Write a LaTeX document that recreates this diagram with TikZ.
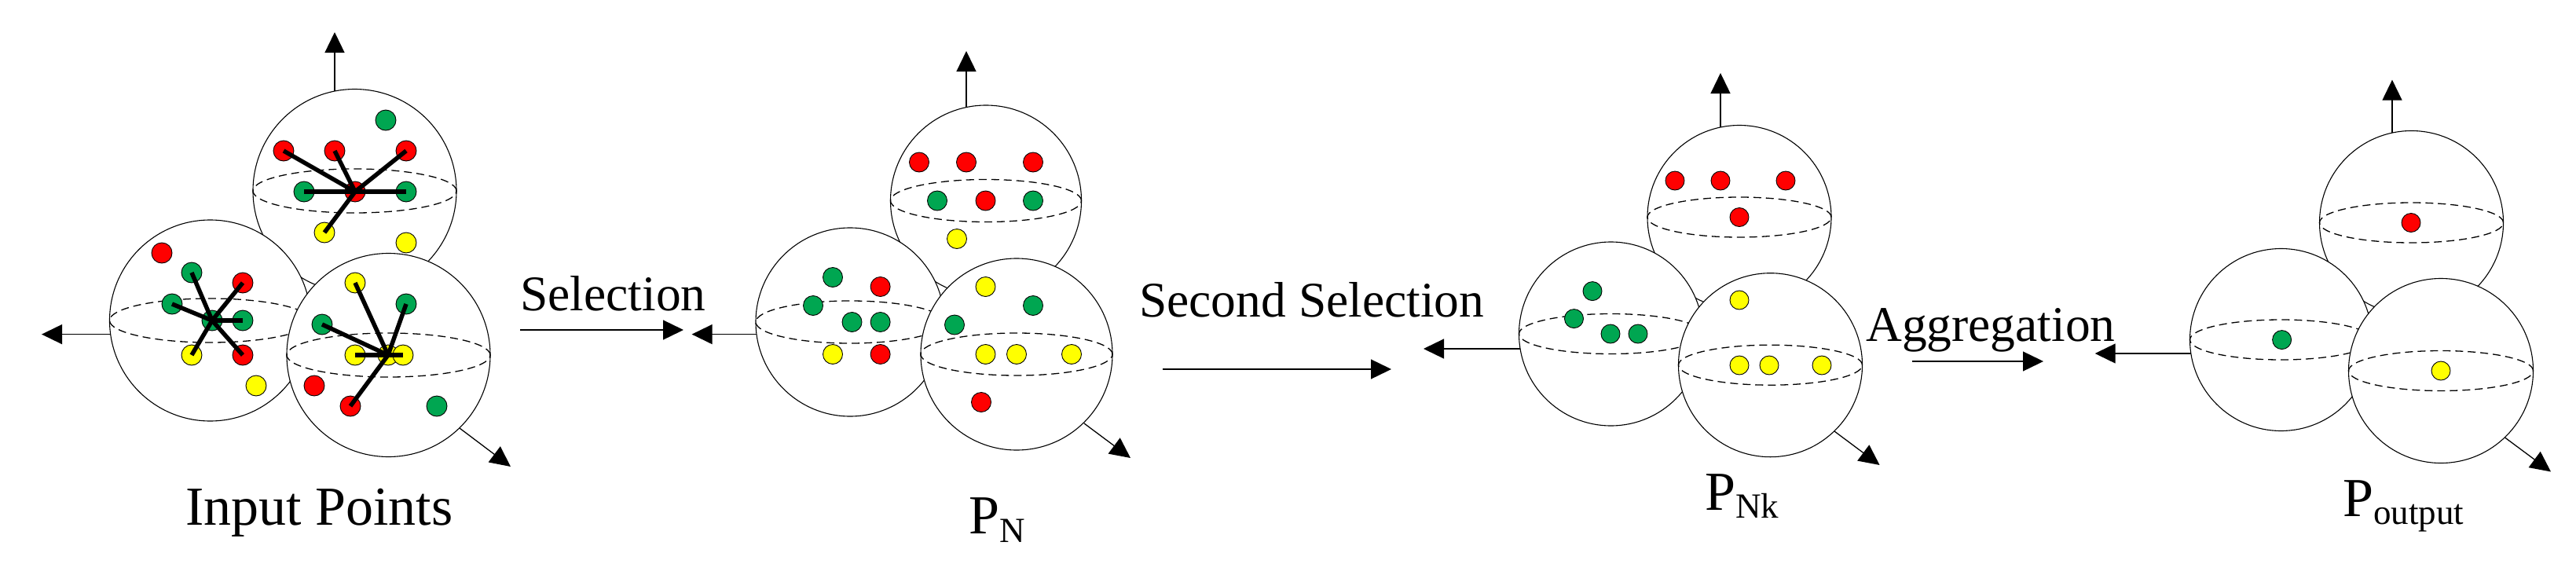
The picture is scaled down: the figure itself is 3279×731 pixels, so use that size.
\documentclass[tikz,border=0pt]{standalone}
\usepackage{fontspec}
\setmainfont{Liberation Serif}
\usetikzlibrary{arrows.meta}
\definecolor{dotred}{RGB}{255,0,0}
\definecolor{dotgreen}{RGB}{0,166,81}
\definecolor{dotyellow}{RGB}{255,255,0}
\begin{document}
\begin{tikzpicture}[x=1pt,y=-1pt,
  sphere/.style={circle,draw=black,fill=white,line width=1.1pt,inner sep=0pt},
  equator/.style={draw=black,line width=1.3pt,dash pattern=on 10pt off 6pt},
  axisarrow/.style={line width=1.3pt,-{Triangle[length=26pt,width=25pt]}},
  steparrow/.style={line width=1.3pt,-{Triangle[length=26pt,width=25pt]}},
  link/.style={line width=5.5pt},
  dot/.style={circle,draw=black,line width=0.9pt,inner sep=0pt,minimum size=#1},
  dot/.default=26pt,
  rd/.style={dot=#1,fill=dotred}, rd/.default=26pt,
  gr/.style={dot=#1,fill=dotgreen}, gr/.default=26pt,
  ye/.style={dot=#1,fill=dotyellow}, ye/.default=26pt,
  lblbig/.style={inner sep=0pt,anchor=base west,font=\fontsize{70}{80}\selectfont},
  lblstep/.style={inner sep=0pt,anchor=base west,font=\fontsize{63.5}{72}\selectfont}
]
\useasboundingbox (0,0) rectangle (3279,731);
\newcommand{\subtxt}[2]{\raisebox{-#1pt}{\fontsize{45}{50}\selectfont #2}}

%% ---------------- Input points ----------------
\node[sphere,minimum size=259pt] (IT) at (451.5,243) {};
\draw[equator] (IT.center) ellipse[x radius=129.5pt,y radius=28pt];
\node[gr] (it1) at (491,153) {};
\node[rd] (it2) at (361,192) {};
\node[rd] (it3) at (426,192) {};
\node[rd] (it4) at (517,192) {};
\node[gr] (it5) at (387,244) {};
\node[rd] (itc) at (452,244) {};
\node[gr] (it6) at (517,244) {};
\node[ye] (it7) at (413,296) {};
\node[ye] (it8) at (517,309) {};
\foreach \t in {it2,it3,it4,it5,it6,it7} \draw[link] (itc.center) -- (\t.center);

\node[sphere,minimum size=256pt] (IL) at (267.5,408) {};
\draw[equator] (IL.center) ellipse[x radius=128pt,y radius=28pt];
\node[rd] (il1) at (206,322) {};
\node[gr] (il2) at (244,347) {};
\node[rd] (il3) at (309,360) {};
\node[gr] (il4) at (219,387) {};
\node[gr] (ilc) at (270,408) {};
\node[gr] (il5) at (309,408) {};
\node[ye] (il6) at (244,452) {};
\node[rd] (il7) at (309,452) {};
\node[ye] (il8) at (326,491) {};
\foreach \t in {il2,il3,il4,il5,il6,il7} \draw[link] (ilc.center) -- (\t.center);

\node[sphere,minimum size=259pt] (IR) at (494.5,452) {};
\draw[equator] (IR.center) ellipse[x radius=129.5pt,y radius=28pt];
\node[ye] (ir1) at (452,360) {};
\node[gr] (ir2) at (517,387) {};
\node[gr] (ir3) at (410,413) {};
\node[ye] (ir4) at (452,452) {};
\node[ye] (irc) at (494,452) {};
\node[ye] (ir5) at (513,452) {};
\node[rd] (ir6) at (400,491) {};
\node[rd] (ir7) at (446,517) {};
\node[gr] (ir8) at (556,517) {};
\foreach \t in {ir1,ir2,ir3,ir4,ir5,ir7} \draw[link] (irc.center) -- (\t.center);

\coordinate (iu0) at (426,116);  \coordinate (iu1) at (426,41);
\coordinate (il0) at (140.7,425.6); \coordinate (ill) at (53,425.6);
\coordinate (id0) at (585,545);  \coordinate (id1) at (650,594);
\draw[axisarrow] (iu0) -- (iu1);
\draw[axisarrow] (il0) -- (ill);
\draw[axisarrow] (id0) -- (id1);
\node[lblbig] (inlbl) at (236,668) {Input Points};

%% ---------------- Selection ----------------
\node[lblstep] (sel) at (662,395) {Selection};
\coordinate (s1a) at (662,420); \coordinate (s1b) at (870,420);
\draw[steparrow] (s1a) -- (s1b);

%% ---------------- P_N ----------------
\node[sphere,minimum size=243pt] (NT) at (1255,255.5) {};
\draw[equator] (NT.center) ellipse[x radius=121.5pt,y radius=27pt];
\node[rd=25pt] (nt1) at (1170,206.5) {};
\node[rd=25pt] (nt2) at (1230,206.5) {};
\node[rd=25pt] (nt3) at (1315,206.5) {};
\node[gr=25pt] (nt4) at (1193,255.5) {};
\node[rd=25pt] (nt5) at (1254.5,255.5) {};
\node[gr=25pt] (nt6) at (1315,255.5) {};
\node[ye=25pt] (nt7) at (1218,304) {};

\node[sphere,minimum size=240pt] (NL) at (1082,410) {};
\draw[equator] (NL.center) ellipse[x radius=120pt,y radius=27pt];
\node[gr=25pt] (nl1) at (1060,353) {};
\node[rd=25pt] (nl2) at (1120.6,365) {};
\node[gr=25pt] (nl3) at (1035,389) {};
\node[gr=25pt] (nl4) at (1084.5,410) {};
\node[gr=25pt] (nl5) at (1120.6,410) {};
\node[ye=25pt] (nl6) at (1060,451) {};
\node[rd=25pt] (nl7) at (1120.6,451) {};

\node[sphere,minimum size=244pt] (NR) at (1294,451) {};
\draw[equator] (NR.center) ellipse[x radius=122pt,y radius=27pt];
\node[ye=25pt] (nr1) at (1254.5,365) {};
\node[gr=25pt] (nr2) at (1315,389) {};
\node[gr=25pt] (nr3) at (1215,413.5) {};
\node[ye=25pt] (nr4) at (1254.5,451) {};
\node[ye=25pt] (nr5) at (1294,451) {};
\node[ye=25pt] (nr6) at (1364,451) {};
\node[rd=25pt] (nr7) at (1249,512) {};

\coordinate (nu0) at (1230,136.6); \coordinate (nu1) at (1230,65);
\coordinate (nl0) at (963,425.6);  \coordinate (nll) at (880.6,425.6);
\coordinate (nd0) at (1380,539);   \coordinate (nd1) at (1439,583);
\draw[axisarrow] (nu0) -- (nu1);
\draw[axisarrow] (nl0) -- (nll);
\draw[axisarrow] (nd0) -- (nd1);
\node[lblbig] (pnlbl) at (1233,679) {P\subtxt{11}{N}};

%% ---------------- Second Selection ----------------
\node[lblstep] (sel2) at (1450,403) {Second Selection};
\coordinate (s2a) at (1480,470); \coordinate (s2b) at (1771,470);
\draw[steparrow] (s2a) -- (s2b);

%% ---------------- P_Nk ----------------
\node[sphere,minimum size=234pt] (KT) at (2214,276.5) {};
\draw[equator] (KT.center) ellipse[x radius=117pt,y radius=25.5pt];
\node[rd=24pt] (kt1) at (2132,230) {};
\node[rd=24pt] (kt2) at (2190,230) {};
\node[rd=24pt] (kt3) at (2273,230) {};
\node[rd=24pt] (kt4) at (2214,276.5) {};

\node[sphere,minimum size=234pt] (KL) at (2050.5,425) {};
\draw[equator] (KL.center) ellipse[x radius=117pt,y radius=25.5pt];
\node[gr=24pt] (kl1) at (2027,370.6) {};
\node[gr=24pt] (kl2) at (2003.5,405.6) {};
\node[gr=24pt] (kl3) at (2050,425) {};
\node[gr=24pt] (kl4) at (2085,425) {};

\node[sphere,minimum size=234pt] (KR) at (2253.5,464.7) {};
\draw[equator] (KR.center) ellipse[x radius=117pt,y radius=25.5pt];
\node[ye=24pt] (kr1) at (2214,382) {};
\node[ye=24pt] (kr2) at (2214,465) {};
\node[ye=24pt] (kr3) at (2252,465) {};
\node[ye=24pt] (kr4) at (2319,465) {};

\coordinate (ku0) at (2190,162);   \coordinate (ku1) at (2190,93);
\coordinate (kl0) at (1935,444);   \coordinate (kll) at (1812,444);
\coordinate (kd0) at (2335,549);   \coordinate (kd1) at (2392.6,592);
\draw[axisarrow] (ku0) -- (ku1);
\draw[axisarrow] (kl0) -- (kll);
\draw[axisarrow] (kd0) -- (kd1);
\node[lblbig] (pnklbl) at (2170,649) {P\subtxt{10}{Nk}};

%% ---------------- Aggregation ----------------
\node[lblstep] (agg) at (2375,434) {Aggregation};
\coordinate (s3a) at (2434,460); \coordinate (s3b) at (2601,460);
\draw[steparrow] (s3a) -- (s3b);

%% ---------------- P_output ----------------
\node[sphere,minimum size=234pt] (OT) at (3069.5,283.5) {};
\draw[equator] (OT.center) ellipse[x radius=117pt,y radius=25.5pt];
\node[rd=24pt] (ot1) at (3069,283.5) {};

\node[sphere,minimum size=232pt] (OL) at (2903.5,432.5) {};
\draw[equator] (OL.center) ellipse[x radius=116pt,y radius=25.5pt];
\node[gr=24pt] (ol1) at (2904.6,432.6) {};

\node[sphere,minimum size=235pt] (OR) at (3107,472) {};
\draw[equator] (OR.center) ellipse[x radius=117.5pt,y radius=25.5pt];
\node[ye=24pt] (or1) at (3107,472) {};

\coordinate (ou0) at (3045,169);   \coordinate (ou1) at (3045,101.6);
\coordinate (ol0) at (2788.8,450); \coordinate (oll) at (2666.7,450);
\coordinate (od0) at (3188.5,557); \coordinate (od1) at (3247,600.5);
\draw[axisarrow] (ou0) -- (ou1);
\draw[axisarrow] (ol0) -- (oll);
\draw[axisarrow] (od0) -- (od1);
\node[lblbig] (poutlbl) at (2982,657) {P\subtxt{10}{output}};
\end{tikzpicture}
\end{document}
